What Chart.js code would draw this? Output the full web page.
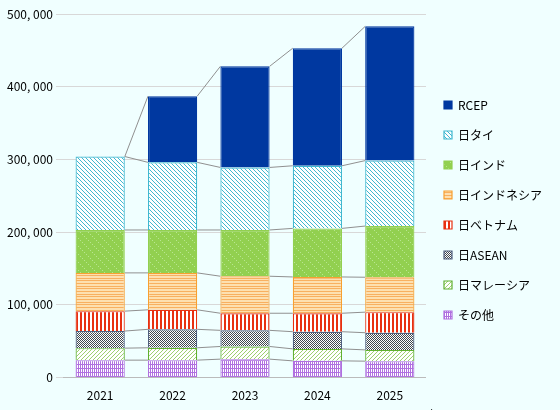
<!DOCTYPE html>
<html><head><meta charset="utf-8">
<script src="https://cdn.jsdelivr.net/npm/chart.js@4"></script>
<style>body{margin:0;background:#f0ffff}#w{width:560px;height:410px}</style>
</head><body><div id="w"><canvas id="c"></canvas></div>
<script>
const years=['2021','2022','2023','2024','2025'];
const seriesNames=['その他','日マレーシア','日ASEAN','日ベトナム','日インドネシア','日インド','日タイ','RCEP'];
const other=[24000,24000,25400,23000,22600];
const malaysia=[16500,17000,17400,16500,15500];
const asean=[23500,25400,22200,23600,23600];
const vietnam=[27400,26800,23500,25400,28300];
const indonesia=[52600,50800,50900,49900,48000];
const india=[59000,59000,63600,66800,70400];
const thai=[101000,93000,86000,86100,90000];
const rcep=[0,91000,139000,161700,184600];
const yTicks=[0,100000,200000,300000,400000,500000];

function pat(bg,fg,draw){const c=document.createElement('canvas');c.width=8;c.height=8;const x=c.getContext('2d');x.fillStyle=bg;x.fillRect(0,0,8,8);x.fillStyle=fg;x.strokeStyle=fg;draw(x);return x.createPattern(c,'repeat');}
const P={
 other:pat('#fff','#b070e0',x=>{for(let i=0;i<8;i+=2)x.fillRect(i,0,1,8);x.fillRect(0,0,8,1);x.fillRect(0,4,8,1);}),
 malaysia:pat('#fff','#9cd070',x=>{for(let i=0;i<8;i++){x.fillRect(i,(8-i)%8,1,1);x.fillRect(i,(12-i)%8,1,1);}}),
 asean:pat('#fff','#404850',x=>{for(let i=0;i<8;i++){x.fillRect(i,(8-i)%8,1,1);x.fillRect(i,(10-i)%8,1,1);x.fillRect(i,(12-i)%8,1,1);x.fillRect(i,(14-i)%8,1,1);}}),
 vietnam:pat('#fff','#e83010',x=>{x.fillRect(0,0,2,8);x.fillRect(4,0,2,8);}),
 indonesia:pat('#fde0b0','#f8b060',x=>{x.fillRect(0,0,8,1);x.fillRect(0,3,8,1);x.fillRect(0,6,8,1);}),
 india:pat('#92d050','#b8e690',x=>{x.fillRect(0,0,1,1);x.fillRect(4,4,1,1);x.fillRect(2,2,1,1);x.fillRect(6,6,1,1);}),
 thai:pat('#fff','#40b8d0',x=>{for(let i=0;i<8;i++){x.fillRect(i,i,1,1);x.fillRect(i,(i+4)%8,1,1);}})
};
const mk=(l,d,bg,b)=>({label:l,data:d,backgroundColor:bg,borderColor:b,borderWidth:1.2,barPercentage:0.68,categoryPercentage:1});
const datasets=[
 mk(seriesNames[0],other,P.other,'#b070e0'),
 mk(seriesNames[1],malaysia,P.malaysia,'#60b030'),
 mk(seriesNames[2],asean,P.asean,'#506080'),
 mk(seriesNames[3],vietnam,P.vietnam,'#e83010'),
 mk(seriesNames[4],indonesia,P.indonesia,'#f8a030'),
 mk(seriesNames[5],india,P.india,'#92d050'),
 mk(seriesNames[6],thai,P.thai,'#40b8d0'),
 mk(seriesNames[7],rcep,'#0038a0','#0038a0')
];
const connectors={id:'conn',afterDatasetsDraw(ch){const c=ch.ctx;c.save();c.strokeStyle='#909090';c.lineWidth=1;
 ch.data.datasets.forEach((d,i)=>{const m=ch.getDatasetMeta(i);for(let j=0;j<m.data.length-1;j++){
  const a=m.data[j],b=m.data[j+1];
  let ya=a.y; if(d.data[j]===0){ // connect from top of previous stack
   for(let k=i-1;k>=0;k--){if(ch.data.datasets[k].data[j]){ya=ch.getDatasetMeta(k).data[j].y;break;}}}
  c.beginPath();c.moveTo(a.x+a.width/2,ya);c.lineTo(b.x-b.width/2,b.y);c.stroke();}});
 c.restore();}};
const bgp={id:'bgp',beforeDraw(ch){const c=ch.ctx;c.save();c.fillStyle='#f0ffff';c.fillRect(0,0,ch.width,ch.height);c.restore();},
 afterDraw(ch){const c=ch.ctx;const s=ch.scales.x;c.save();c.font='12px "Noto Sans CJK JP"';c.fillStyle='#000';c.fillText('年',s.right+2,s.bottom+14);c.restore();}};
new Chart(document.getElementById('c'),{type:'bar',data:{labels:years,datasets},
 options:{responsive:true,maintainAspectRatio:false,animation:false,
  layout:{padding:{left:4,right:8,top:14,bottom:4}},
  plugins:{legend:{position:'right',reverse:true,align:'center',labels:{boxWidth:8,boxHeight:8,padding:18,color:'#000',font:{size:12,family:'"Noto Sans CJK JP"'}}},tooltip:{enabled:false}},
  scales:{x:{stacked:true,grid:{display:false},border:{color:'#bbb'},ticks:{color:'#000',font:{size:12,family:'"Noto Sans CJK JP"'}}},
   y:{stacked:true,min:0,max:500000,afterBuildTicks(a){a.ticks=yTicks.map(v=>({value:v}));},grid:{color:'#d8d8d8'},border:{display:false},
    ticks:{color:'#000',font:{size:12,family:'"Noto Sans CJK JP"'},callback:v=>v.toLocaleString('en-US').replace(/,/g,', ')}}}},
 plugins:[bgp,connectors]});
</script></body></html>
